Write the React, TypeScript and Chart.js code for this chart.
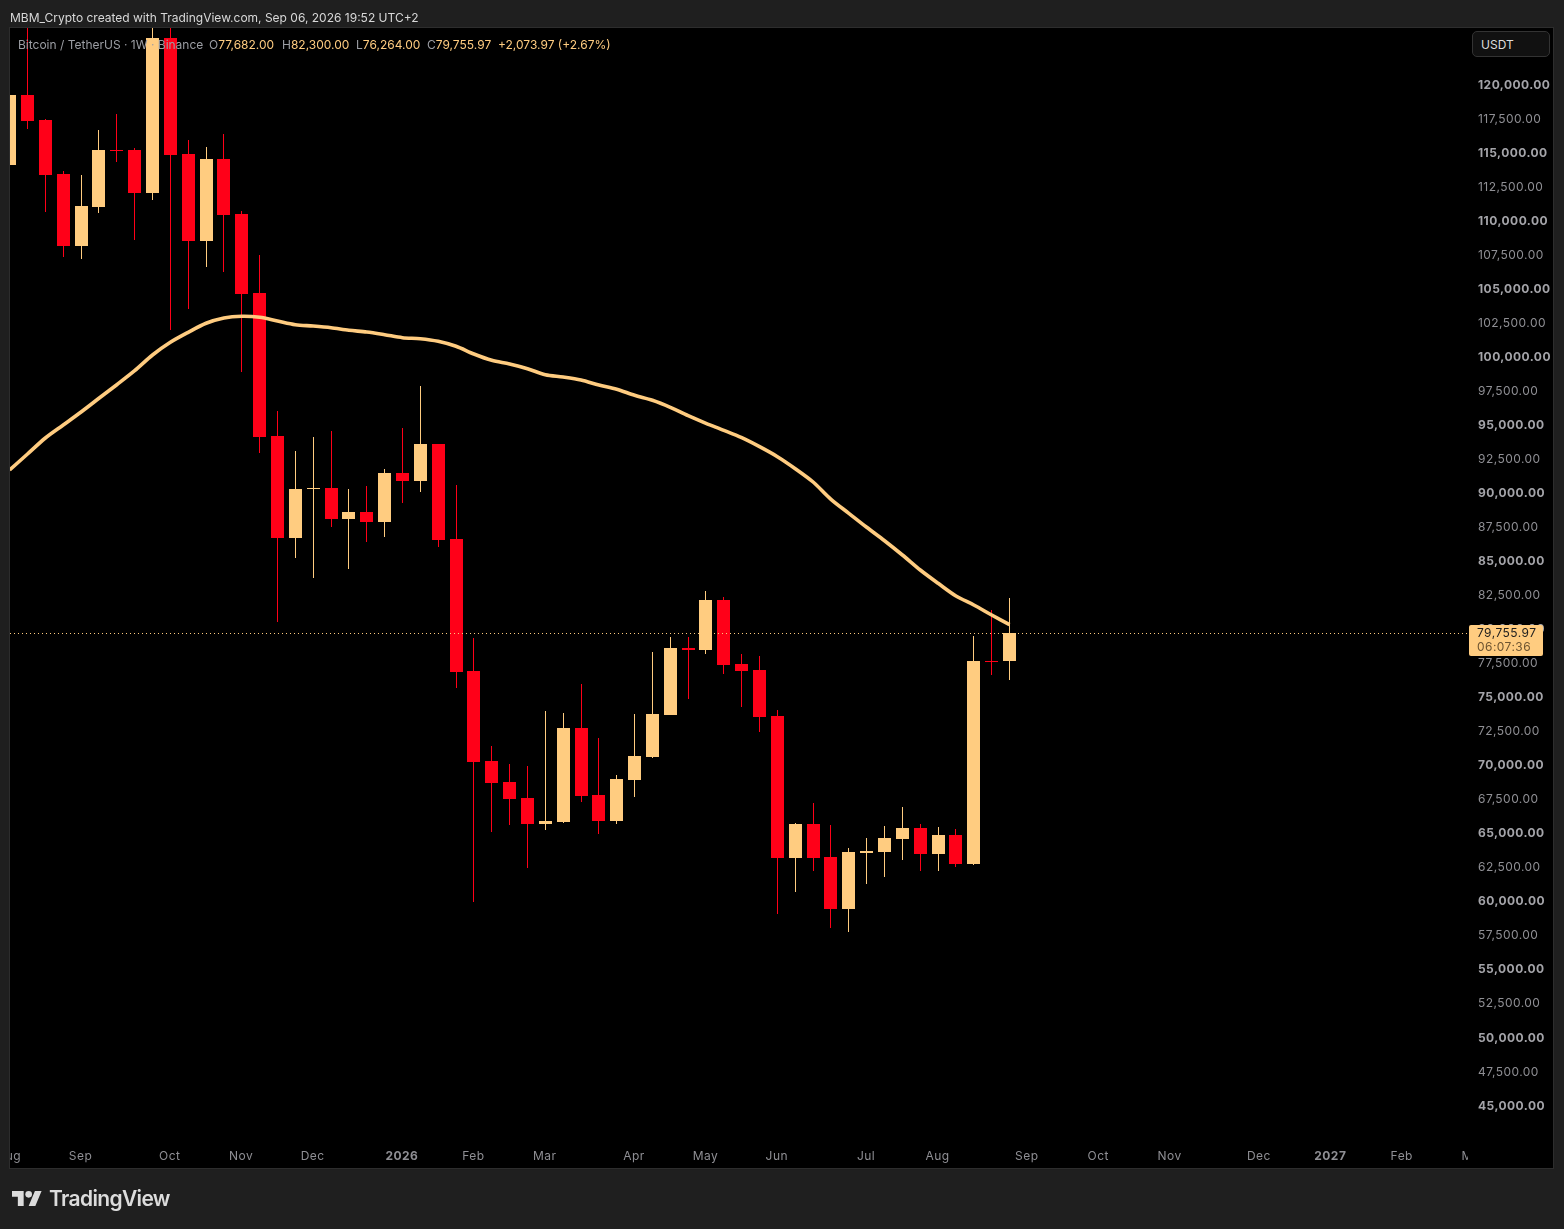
import React, { useEffect, useRef } from "react";
import { Chart, registerables } from "chart.js";

Chart.register(...registerables);

const opens = [
  114120, 119270, 117430, 113460, 108170, 111040, 115230, 115230, 112070, 123450,
  114930, 108540, 114560, 110520, 104720, 94220, 86720, 90320, 90400, 88120,
  88630, 87900, 91500, 90910, 93630, 86650, 76950, 70340, 68800, 67620,
  65710, 65860, 72770, 67840, 65930, 68950, 70640, 73720, 78640, 78500,
  82170, 77470, 77030, 73650, 63220, 65710, 63290, 59470, 63580, 63660,
  64610, 65420, 63510, 64910, 62780, 77680, 77682,
];
const highs = [
  119270, 125000, 117500, 113680, 113390, 116690, 117870, 115370, 125000, 125000,
  115960, 115450, 116400, 110740, 107510, 96050, 93110, 94140, 94580, 90320,
  90540, 91790, 94800, 97890, 93630, 90620, 79380, 71440, 70120, 69970,
  74010, 73870, 76000, 72030, 69310, 73790, 78350, 79450, 79450, 82830,
  82390, 78200, 78050, 74090, 65790, 67260, 65640, 63950, 64690, 65570,
  66960, 65710, 65490, 65350, 79520, 81430, 82300,
];
const lows = [
  114120, 116770, 110670, 107370, 107220, 110600, 114340, 108610, 111550, 102000,
  103550, 106630, 106260, 98920, 92970, 80550, 85250, 83780, 87530, 84450,
  86430, 86800, 89290, 90100, 86060, 75700, 59980, 65130, 65640, 62480,
  65270, 65790, 67330, 64980, 65710, 67700, 70560, 73720, 74900, 78200,
  76730, 74310, 72470, 59100, 60720, 62260, 58070, 57780, 61310, 61820,
  63070, 62260, 62260, 62550, 62700, 76660, 76264,
];
const closes = [
  119270, 117360, 113390, 108170, 111110, 115230, 115150, 112070, 123450, 114860,
  108540, 114560, 110450, 104650, 94140, 86720, 90320, 90400, 88120, 88630,
  87900, 91500, 90910, 93630, 86580, 76880, 70270, 68730, 67550, 65710,
  65930, 72770, 67770, 65930, 69020, 70710, 73790, 78640, 78500, 82170,
  77390, 76950, 73570, 63220, 65710, 63220, 59470, 63660, 63730, 64690,
  65420, 63510, 64910, 62780, 77680, 77610, 79755.97,
];
const movingAverage = [
  91718, 92893, 94069, 95024, 95979, 96985, 97984, 99013, 100166, 101099,
  101833, 102495, 102884, 103009, 102935, 102663, 102392, 102296, 102171, 101980,
  101855, 101657, 101437, 101363, 101172, 100805, 100239, 99776, 99505, 99159,
  98719, 98550, 98329, 97962, 97646, 97205, 96838, 96324, 95707, 95148,
  94634, 94091, 93430, 92695, 91813, 90836, 89566, 88537, 87509, 86524,
  85474, 84372, 83395, 82462, 81801, 81066, 80354,
];
const priceTicks = [
  45000, 47500, 50000, 52500, 55000, 57500, 60000, 62500, 65000, 67500, 70000,
  72500, 75000, 77500, 80000, 82500, 85000, 87500, 90000, 92500, 95000, 97500,
  100000, 102500, 105000, 107500, 110000, 112500, 115000, 117500, 120000,
];
const timeTickWeeks = [0, 4, 9, 13, 17, 22, 26, 30, 35, 39, 43, 48, 52, 57, 61, 65, 70, 74, 78, 82];
const timeTickLabels = [
  "Aug", "Sep", "Oct", "Nov", "Dec", "2026", "Feb", "Mar", "Apr", "May",
  "Jun", "Jul", "Aug", "Sep", "Oct", "Nov", "Dec", "2027", "Feb", "Mar",
];

const BULL = "#ffcc80";
const BEAR = "#ff0018";
const FONT = "Inter, 'Noto Sans', sans-serif";
const PAGE_BG = "#1f1f1f";
const FRAME = "#2d2d2d";

const weeks = opens.map((_, i) => i);
const candleColors = weeks.map((i) => (closes[i] >= opens[i] ? BULL : BEAR));

const money = (v: number) =>
  v.toLocaleString("en-US", { minimumFractionDigits: 2, maximumFractionDigits: 2 });

// bars and wicks land on whole pixels like the original, otherwise 1px wicks go blurry
const snapBars = {
  id: "snapBars",
  beforeDatasetsDraw(chart: any) {
    chart.getSortedVisibleDatasetMetas().forEach((meta: any) => {
      if (meta.type !== "bar") return;
      meta.data.forEach((el: any) => {
        el.x = Math.floor(el.x) + 0.5;
        el.y = Math.round(el.y);
        el.base = Math.round(el.base);
        if (el.base === el.y) el.base = el.y + 1;
      });
    });
  },
};

const frame = {
  id: "frame",
  beforeDraw(chart: any) {
    const { ctx, width, height, chartArea } = chart;
    ctx.save();
    ctx.fillStyle = PAGE_BG;
    ctx.fillRect(0, 0, width, height);
    ctx.fillStyle = "#000";
    ctx.fillRect(chartArea.left, chartArea.top, 1543, 1140);
    ctx.restore();
    ctx.letterSpacing = "0.45px";
  },
  afterDatasetsDraw(chart: any) {
    const { ctx, chartArea, scales } = chart;
    const y = Math.round(scales.y.getPixelForValue(closes[closes.length - 1])) + 0.5;
    ctx.save();
    ctx.strokeStyle = BULL;
    ctx.setLineDash([1, 3]);
    ctx.beginPath();
    ctx.moveTo(chartArea.left, y);
    ctx.lineTo(chartArea.right, y);
    ctx.stroke();
    ctx.restore();
  },
  afterDraw(chart: any) {
    const { ctx, chartArea, scales } = chart;
    const last = closes[closes.length - 1];
    const y = Math.round(scales.y.getPixelForValue(last));
    ctx.save();
    // time labels get cut at the pane edges
    ctx.fillStyle = PAGE_BG;
    ctx.fillRect(0, chartArea.bottom, chartArea.left, 28);
    ctx.fillStyle = "#000";
    ctx.fillRect(chartArea.right - 2, chartArea.bottom, 85, 28);
    ctx.strokeStyle = FRAME;
    ctx.lineWidth = 1;
    ctx.strokeRect(chartArea.left - 0.5, chartArea.top - 0.5, 1544, 1141);

    ctx.fillStyle = BULL;
    ctx.beginPath();
    ctx.roundRect(1469, y - 8, 74, 31, 2);
    ctx.fill();
    ctx.textBaseline = "middle";
    ctx.textAlign = "left";
    ctx.font = `12px ${FONT}`;
    ctx.fillStyle = "#1c1c1c";
    ctx.fillText(money(last), 1477, y);
    ctx.fillStyle = "#6d5430";
    ctx.fillText("06:07:36", 1477, y + 14);
    ctx.restore();
  },
};

export default function App() {
  const canvasRef = useRef<HTMLCanvasElement | null>(null);

  useEffect(() => {
    const chart = new Chart(canvasRef.current as HTMLCanvasElement, {
      type: "bar",
      data: {
        datasets: [
          {
            type: "line",
            label: "MA",
            data: weeks.map((i) => ({ x: i, y: movingAverage[i] })),
            borderColor: BULL,
            borderWidth: 3.6,
            pointRadius: 0,
            tension: 0.3,
            order: 0,
          },
          {
            label: "Body",
            data: weeks.map((i) => ({ x: i, y: [opens[i], closes[i]] })),
            backgroundColor: candleColors,
            barThickness: 13,
            inflateAmount: 0,
            grouped: false,
            order: 1,
          },
          {
            label: "Wick",
            data: weeks.map((i) => ({ x: i, y: [lows[i], highs[i]] })),
            backgroundColor: candleColors,
            barThickness: 1,
            inflateAmount: 0,
            grouped: false,
            order: 2,
          },
        ] as any,
      },
      options: {
        responsive: false,
        animation: false,
        events: [],
        layout: { padding: { left: 10, top: 28, right: 11, bottom: 61 } },
        plugins: { legend: { display: false }, tooltip: { enabled: false } },
        scales: {
          x: {
            type: "linear",
            offset: false,
            min: 0.019,
            max: 81.79,
            grid: { display: false, drawTicks: false, offset: false },
            border: { display: false },
            afterBuildTicks: (scale: any) => {
              scale.ticks = timeTickWeeks.map((value) => ({ value }));
            },
            afterFit: (scale: any) => {
              scale.height = 28;
              scale.paddingLeft = 0;
              scale.paddingRight = 0;
            },
            ticks: {
              autoSkip: false,
              maxRotation: 0,
              padding: 9,
              labelOffset: -0.6,
              callback: (_v: any, i: number) => timeTickLabels[i],
              color: "#8f8f94",
              font: (c: any) => ({
                family: FONT,
                size: 12,
                weight: /^20/.test(timeTickLabels[c.index] || "") ? "bold" : "normal",
              }),
            },
          },
          y: {
            type: "linear",
            position: "right",
            min: 42500,
            max: 124187,
            grid: { display: false, drawTicks: false },
            border: { display: false },
            afterBuildTicks: (scale: any) => {
              scale.ticks = priceTicks.map((value) => ({ value }));
            },
            afterFit: (scale: any) => {
              scale.width = 83;
              scale.paddingTop = 0;
              scale.paddingBottom = 0;
            },
            ticks: {
              autoSkip: false,
              align: "center",
              crossAlign: "near",
              padding: 8,
              callback: (v: any) => money(v),
              color: (c: any) => (c.tick && c.tick.value % 5000 === 0 ? "#a4a4a9" : "#8f8f94"),
              font: (c: any) => ({
                family: FONT,
                size: 12,
                weight: c.tick && c.tick.value % 5000 === 0 ? "bold" : "normal",
              }),
            },
          },
        },
      },
      plugins: [snapBars, frame],
    } as any);

    return () => {
      chart.destroy();
    };
  }, []);

  const orange = { color: BULL };
  const grey = { color: "#9c9ea4" };

  return (
    <div style={{ position: "absolute", left: 0, top: 0, width: 1564, height: 1229, fontFamily: FONT, overflow: "hidden" }}>
      <canvas ref={canvasRef} width={1564} height={1229} style={{ display: "block" }} />
      <div style={{ position: "absolute", left: 10, top: 10, fontSize: 12, lineHeight: "15px", color: "#d8d8d8", whiteSpace: "nowrap" }}>
        MBM_Crypto created with TradingView.com, Sep 06, 2026 19:52 UTC+2
      </div>
      <div style={{ position: "absolute", left: 18, top: 37, fontSize: 12, lineHeight: "15px", whiteSpace: "nowrap", ...grey }}>
        Bitcoin / TetherUS · 1W · Binance
      </div>
      <div style={{ position: "absolute", left: 209, top: 37, fontSize: 12, lineHeight: "15px", whiteSpace: "nowrap", ...grey }}>
        O<span style={orange}>77,682.00</span>
      </div>
      <div style={{ position: "absolute", left: 282, top: 37, fontSize: 12, lineHeight: "15px", whiteSpace: "nowrap", ...grey }}>
        H<span style={orange}>82,300.00</span>
      </div>
      <div style={{ position: "absolute", left: 356, top: 37, fontSize: 12, lineHeight: "15px", whiteSpace: "nowrap", ...grey }}>
        L<span style={orange}>76,264.00</span>
      </div>
      <div style={{ position: "absolute", left: 427, top: 37, fontSize: 12, lineHeight: "15px", whiteSpace: "nowrap", ...grey }}>
        C<span style={orange}>79,755.97</span>
      </div>
      <div style={{ position: "absolute", left: 498, top: 37, fontSize: 12, lineHeight: "15px", whiteSpace: "nowrap", ...orange }}>
        +2,073.97 (+2.67%)
      </div>
      <div style={{ position: "absolute", left: 1472, top: 31, width: 78, height: 26, boxSizing: "border-box", border: "1px solid #333", borderRadius: 5, background: "#111", color: "#ddd", fontSize: 12, lineHeight: "26px", paddingLeft: 8 }}>
        USDT
      </div>
      <svg viewBox="0 4 36 18" width={30} height={15} style={{ position: "absolute", left: 12, top: 1191 }}>
        <path d="M14 22H7V11H0V4h14v18zM28 22h-8l7.5-18h8L28 22z" fill="#dcdcdc" />
        <circle cx={20} cy={8} r={4} fill="#dcdcdc" />
      </svg>
      <div style={{ position: "absolute", left: 49, top: 1185, fontSize: 21, fontWeight: 600, lineHeight: "28px", letterSpacing: "-0.65px", color: "#dcdcdc" }}>
        TradingView
      </div>
    </div>
  );
}
